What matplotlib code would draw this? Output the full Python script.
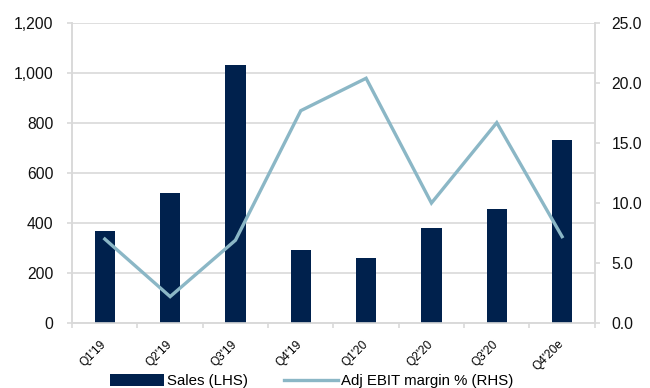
import matplotlib
matplotlib.use("Agg")
import matplotlib.pyplot as plt
import numpy as np

plt.rcParams['font.family'] = ['Liberation Sans', 'DejaVu Sans']

quarters = ["Q1'19", "Q2'19", "Q3'19", "Q4'19", "Q1'20", "Q2'20", "Q3'20", "Q4'20e"]
sales = [368, 520, 1032, 292, 260, 380, 456, 732]
ebit_margin = [7.0, 2.2, 6.9, 17.7, 20.4, 10.0, 16.7, 7.2]

bar_color = "#00214d"
line_color = "#8bb7c6"
grid_color = "#d9d9d9"

fig = plt.figure(figsize=(6.5, 3.88), dpi=100)
ax = fig.add_axes([0.111, 0.1675, 0.804, 0.773])
ax2 = ax.twinx()

x = np.arange(len(quarters))
ax.bar(x, sales, width=0.31, color=bar_color, zorder=3, label="Sales (LHS)")
ax2.plot(x, ebit_margin, color=line_color, lw=2.4, solid_joinstyle='miter',
         label="Adj EBIT margin % (RHS)")

ax.set_xlim(-0.5, len(quarters) - 0.5)
ax.set_ylim(0, 1200)
ax.set_yticks(np.arange(0, 1201, 200))
ax.set_yticklabels([f"{v:,}" for v in range(0, 1201, 200)])
ax2.set_ylim(0, 25)
ax2.set_yticks(np.arange(0, 25.1, 5))
ax2.set_yticklabels([f"{v:.1f}" for v in np.arange(0, 25.1, 5)])

ax.yaxis.grid(True, color=grid_color, lw=1.2, zorder=0)
ax.set_axisbelow(True)

for a in (ax, ax2):
    for s in a.spines.values():
        s.set_color(grid_color)
        s.set_linewidth(1.2)
    a.spines['top'].set_visible(False)

ax.tick_params(axis='y', length=3.6, width=1.2, color=grid_color, labelsize=11.3,
               pad=10, labelcolor='#111111')
ax2.tick_params(axis='y', length=3.6, width=1.2, color=grid_color, labelsize=11.3,
                pad=8.5, labelcolor='#111111')

# category ticks sit at boundaries, labels at centres
ax.set_xticks(np.arange(-0.5, len(quarters), 1.0))
ax.set_xticklabels([])
ax.tick_params(axis='x', which='major', length=3.6, color=grid_color, width=1.2)
ax.set_xticks(x, minor=True)
ax.set_xticklabels(quarters, minor=True, rotation=45, ha='right', va='center',
                   rotation_mode='anchor', fontsize=8.6)
ax.tick_params(axis='x', which='minor', length=0, pad=14)
for lbl in ax.get_xticklabels(minor=True):
    lbl.set_x(lbl.get_position()[0])

h1, l1 = ax.get_legend_handles_labels()
h2, l2 = ax2.get_legend_handles_labels()
fig.legend(h1 + h2, l1 + l2, loc='lower center', bbox_to_anchor=(0.48, -0.035),
           ncol=2, frameon=False, fontsize=10.8, handlelength=3.6,
           handleheight=0.8, handletextpad=0.2, columnspacing=2.4)

fig.savefig("out.png", dpi=100)
